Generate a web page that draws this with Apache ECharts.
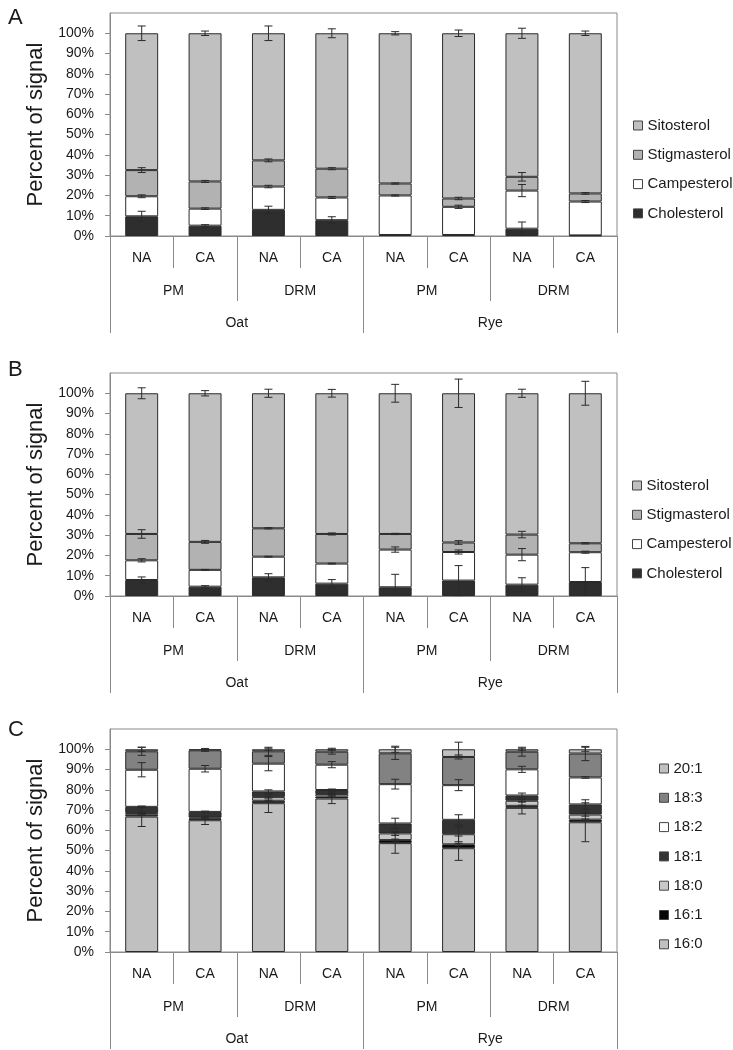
<!DOCTYPE html>
<html>
<head>
<meta charset="utf-8">
<script src="https://cdn.jsdelivr.net/npm/echarts@6/dist/echarts.min.js"></script>
<style>
html,body{margin:0;padding:0;background:#fff;}
#chart{width:733px;height:1050px;}
</style>
</head>
<body>
<div id="chart"></div>
<script>
// ---- categories ----
const level1 = ['NA','CA','NA','CA','NA','CA','NA','CA'];
const level2 = ['PM','DRM','PM','DRM'];
const level3 = ['Oat','Rye'];
const yTicks = [0,10,20,30,40,50,60,70,80,90,100];

// ---- Panel A (sterols) values, % of signal, bottom to top ----
const A_cholesterol  = [9.7, 5.1, 12.9, 7.8, 0.5, 0.5, 3.6, 0.3];
const A_campesterol  = [9.9, 8.4, 11.5, 11.2, 19.5, 13.9, 18.8, 16.7];
const A_stigmasterol = [12.9, 13.4, 12.9, 14.2, 5.9, 4.1, 6.8, 4.0];
const A_sitosterol   = [67.5, 73.1, 62.7, 66.8, 74.1, 81.5, 70.8, 79.0];
const A_err_cholesterol  = [2.5, 0.5, 1.8, 1.7, 0, 0, 3.3, 0];
const A_err_campesterol  = [0.7, 0.4, 0.6, 0.5, 0.3, 0.8, 3.0, 0.5];
const A_err_stigmasterol = [1.2, 0.5, 0.7, 0.5, 0.3, 0.6, 2.1, 0.4];
const A_err_sitosterol   = [3.6, 1.1, 3.6, 2.2, 0.8, 1.6, 2.5, 1.1];

// ---- Panel B (sterols) ----
const B_cholesterol  = [7.9, 4.6, 9.2, 6.1, 4.3, 7.6, 5.6, 6.9];
const B_campesterol  = [9.7, 8.3, 10.2, 9.9, 18.6, 14.1, 14.8, 14.7];
const B_stigmasterol = [13.0, 13.8, 14.0, 14.6, 7.7, 4.7, 9.9, 4.4];
const B_sitosterol   = [69.4, 73.3, 66.6, 69.4, 69.4, 73.6, 69.7, 74.0];
const B_err_cholesterol  = [1.5, 0.5, 1.8, 2.0, 6.4, 7.4, 3.4, 7.1];
const B_err_campesterol  = [0.8, 0.2, 0.2, 0.2, 1.3, 1.0, 3.0, 0.5];
const B_err_stigmasterol = [2.1, 0.7, 0.3, 0.5, 0.3, 0.9, 1.6, 0.3];
const B_err_sitosterol   = [2.7, 1.3, 2.0, 1.9, 4.4, 7.0, 2.0, 5.9];

// ---- Panel C (fatty acids) ----
const C_16_0 = [66.8, 65.0, 73.4, 75.7, 53.7, 51.2, 71.1, 64.0];
const C_16_1 = [0.9, 0.8, 1.2, 1.0, 1.5, 1.9, 1.0, 1.3];
const C_18_0 = [0.9, 0.5, 1.8, 1.2, 3.3, 5.0, 2.5, 2.5];
const C_18_1 = [3.0, 2.8, 2.8, 2.0, 4.9, 7.1, 2.6, 5.0];
const C_18_2 = [18.3, 21.3, 13.7, 12.5, 19.4, 17.1, 12.9, 13.3];
const C_18_3 = [9.1, 9.1, 6.1, 6.4, 15.2, 13.9, 8.7, 11.8];
const C_20_1 = [1.0, 0.5, 1.0, 1.2, 2.0, 3.8, 1.2, 2.1];
const C_err_16_0 = [4.9, 2.1, 4.6, 2.5, 5.0, 6.0, 3.0, 9.6];
const C_err_16_1 = [0.3, 0.3, 0.3, 0.3, 0.5, 0.5, 0.3, 0.3];
const C_err_18_0 = [0.4, 0.3, 0.5, 0.4, 1.0, 3.7, 0.6, 0.8];
const C_err_18_1 = [0.4, 0.4, 0.8, 0.5, 2.6, 2.5, 1.2, 2.3];
const C_err_18_2 = [3.5, 1.6, 3.5, 1.5, 2.4, 2.7, 1.5, 0.4];
const C_err_18_3 = [2.0, 0.5, 2.0, 1.2, 3.0, 1.0, 2.2, 3.5];
const C_err_20_1 = [1.0, 0.4, 0.5, 0.5, 1.5, 3.5, 0.5, 1.0];

const FONT = "'Liberation Sans', Arial, sans-serif";
const TXT = '#1a1a1a';
const AXC = '#8a8a8a';

const panels = [
  { letter:'A', top:13, letterTop:2, legendLeft:633, legendTop:118,
    layers:[
      {name:'Cholesterol', data:A_cholesterol, err:A_err_cholesterol, color:'#2e2e2e'},
      {name:'Campesterol', data:A_campesterol, err:A_err_campesterol, color:'#ffffff'},
      {name:'Stigmasterol', data:A_stigmasterol, err:A_err_stigmasterol, color:'#b2b2b2'},
      {name:'Sitosterol', data:A_sitosterol, err:A_err_sitosterol, color:'#c0c0c0'}
    ]},
  { letter:'B', top:373, letterTop:354, legendLeft:632, legendTop:478,
    layers:[
      {name:'Cholesterol', data:B_cholesterol, err:B_err_cholesterol, color:'#2e2e2e'},
      {name:'Campesterol', data:B_campesterol, err:B_err_campesterol, color:'#ffffff'},
      {name:'Stigmasterol', data:B_stigmasterol, err:B_err_stigmasterol, color:'#b2b2b2'},
      {name:'Sitosterol', data:B_sitosterol, err:B_err_sitosterol, color:'#c0c0c0'}
    ]},
  { letter:'C', top:729, letterTop:714, legendLeft:659, legendTop:761,
    layers:[
      {name:'16:0', data:C_16_0, err:C_err_16_0, color:'#c0c0c0'},
      {name:'16:1', data:C_16_1, err:C_err_16_1, color:'#050505'},
      {name:'18:0', data:C_18_0, err:C_err_18_0, color:'#c8c8c8'},
      {name:'18:1', data:C_18_1, err:C_err_18_1, color:'#333333'},
      {name:'18:2', data:C_18_2, err:C_err_18_2, color:'#ffffff'},
      {name:'18:3', data:C_18_3, err:C_err_18_3, color:'#828282'},
      {name:'20:1', data:C_20_1, err:C_err_20_1, color:'#c0c0c0'}
    ]}
];

const GRID_H = 223;
const option = {
  animation:false,
  backgroundColor:'#fff',
  textStyle:{fontFamily:FONT},
  title:[], grid:[], xAxis:[], yAxis:[], legend:[], series:[]
};

function errRender(params, api){
  const i = api.value(0), t = api.value(1), e = api.value(2);
  if (!e) return null;
  const hi = api.coord([i, t + e]);
  const loV = Math.max(0, t - e);
  const lo = api.coord([i, loV]);
  const w = 4;
  const st = {stroke:'#2a2a2a', lineWidth:1};
  const children = [
    {type:'line', shape:{x1:hi[0], y1:hi[1], x2:lo[0], y2:lo[1]}, style:st},
    {type:'line', shape:{x1:hi[0]-w, y1:hi[1], x2:hi[0]+w, y2:hi[1]}, style:st}
  ];
  if (t - e >= 0) children.push({type:'line', shape:{x1:lo[0]-w, y1:lo[1], x2:lo[0]+w, y2:lo[1]}, style:st});
  return {type:'group', children};
}

panels.forEach((p, pi) => {
  option.title.push({text:p.letter, left:3, top:p.letterTop,
    textStyle:{fontFamily:FONT, fontSize:22, fontWeight:'normal', color:TXT}});
  option.grid.push({left:110, width:507, top:p.top, height:GRID_H, show:true,
    borderColor:AXC, borderWidth:1, backgroundColor:'transparent'});
  const xa = pi*3;
  option.xAxis.push({type:'category', gridIndex:pi, data:level1, position:'bottom',
    axisLine:{show:true, lineStyle:{color:AXC}},
    axisTick:{show:true, interval:0, length:32, lineStyle:{color:AXC}},
    axisLabel:{interval:0, margin:15, fontSize:14, color:TXT, fontFamily:FONT}});
  option.xAxis.push({type:'category', gridIndex:pi, data:level2, position:'bottom',
    axisLine:{show:false},
    axisTick:{show:true, interval:0, length:65, lineStyle:{color:AXC}},
    axisLabel:{interval:0, margin:48, fontSize:14, color:TXT, fontFamily:FONT}});
  option.xAxis.push({type:'category', gridIndex:pi, data:level3, position:'bottom',
    axisLine:{show:false},
    axisTick:{show:true, interval:0, length:97, lineStyle:{color:AXC}},
    axisLabel:{interval:0, margin:80, fontSize:14, color:TXT, fontFamily:FONT}});
  option.yAxis.push({type:'value', gridIndex:pi, min:0, max:110, interval:10,
    name:'Percent of signal', nameLocation:'middle', nameGap:62,
    nameTextStyle:{fontSize:22, color:TXT, fontFamily:FONT},
    axisLine:{show:true, lineStyle:{color:AXC}},
    axisTick:{show:true, length:5, lineStyle:{color:AXC}, customValues:yTicks},
    splitLine:{show:false},
    axisLabel:{fontSize:14, color:TXT, margin:16, fontFamily:FONT, customValues:yTicks,
      formatter:v => (v > 100 ? '' : v + '%')}});
  const legendNames = p.layers.map(l => l.name).slice().reverse();
  option.legend.push({orient:'vertical', left:p.legendLeft, top:p.legendTop, padding:0,
    data:legendNames, itemWidth:9, itemHeight:9, itemGap:14.3, icon:'rect',
    selectedMode:false,
    itemStyle:{borderColor:'#444', borderWidth:1},
    textStyle:{fontSize:15, color:TXT, fontFamily:FONT, padding:[0,0,0,0]}});
  const stackName = 'stack' + pi;
  const cum = new Array(level1.length).fill(0);
  p.layers.forEach((l, li) => {
    option.series.push({type:'bar', name:l.name, xAxisIndex:xa, yAxisIndex:pi,
      stack:stackName, barWidth:'52%', data:l.data,
      itemStyle:{color:l.color, borderColor:'#2a2a2a', borderWidth:1},
      emphasis:{disabled:true}});
  });
  p.layers.forEach((l, li) => {
    const pts = l.data.map((v, i) => { cum[i] += v; return [i, cum[i], l.err[i]]; });
    option.series.push({type:'custom', name:l.name + ' err', xAxisIndex:xa, yAxisIndex:pi,
      renderItem:errRender, data:pts, encode:{x:0, y:1}, z:5, silent:true});
  });
});

const chart = echarts.init(document.getElementById('chart'), null, {renderer:'canvas'});
chart.setOption(option);
</script>
</body>
</html>
